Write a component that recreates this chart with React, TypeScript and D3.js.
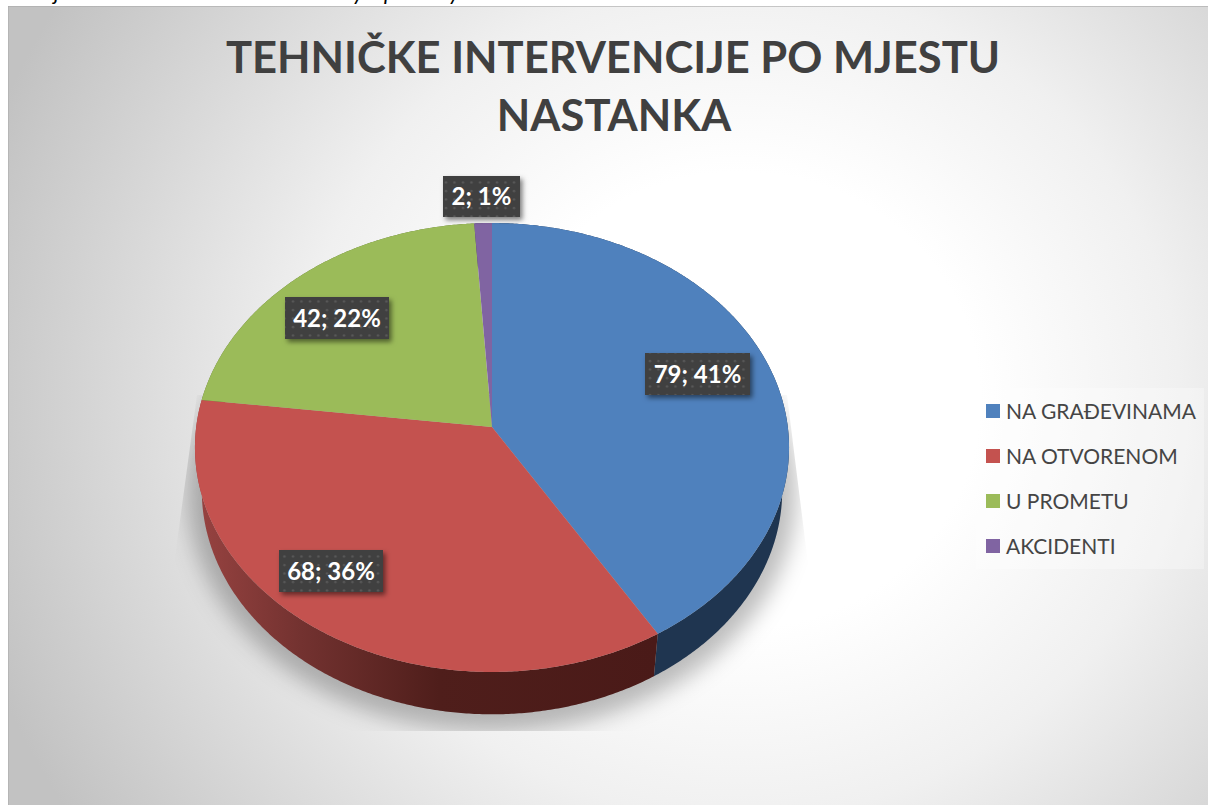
import React from "react";
import * as d3 from "d3";

// ---------- data ----------
const categories = ["NA GRAĐEVINAMA", "NA OTVORENOM", "U PROMETU", "AKCIDENTI"];
const values = [79, 68, 42, 2];
const percents = [41, 36, 22, 1];
const titleLines = ["TEHNIČKE INTERVENCIJE PO MJESTU", "NASTANKA"];

// ---------- styles / layout ----------
const topColors = ["#4f81bd", "#c4524f", "#9bbb59", "#8064a2"];
const sideFills = ["#1f3550", "url(#redSide)", "#5d7035", "#4c3c61"];
const labelBoxes = [
  { x: 645, y: 353, w: 105, h: 42 },
  { x: 279, y: 550, w: 104, h: 42 },
  { x: 285, y: 297, w: 104, h: 42 },
  { x: 443, y: 176, w: 77, h: 41 },
];
const FONT = "Lato, Carlito, Calibri, sans-serif";
const K = 0.0913;
const topFace = { cx: 492, cy: 427, rx: 295.8, ry: 222.6 };
const bottomFace = { cx: 492, cy: 470, rx: 289, ry: 222 };
const shadowFace = { cx: 492, cy: 470, rx: 303, ry: 238 };

type Face = typeof topFace;
const project = (f: Face, a: number): [number, number] => {
  const u = Math.sin(a);
  const v = -Math.cos(a);
  const w = 1 - K * v;
  return [f.cx + (f.rx * u) / w, f.cy + (f.ry * v) / w];
};
const sweep = (f: Face, a0: number, a1: number) => {
  const n = Math.max(2, Math.ceil(Math.abs(a1 - a0) * 120));
  return d3.range(n + 1).map((i) => project(f, a0 + ((a1 - a0) * i) / n));
};

export default function App() {
  const arcs = d3.pie<number>().sort(null).value((d) => d)(values);
  const line = d3.line();

  const tops = arcs.map((s) =>
    line([[topFace.cx, topFace.cy], ...sweep(topFace, s.startAngle, s.endAngle)])! + "Z"
  );
  const sides = arcs.map((s) =>
    line([
      ...sweep(topFace, s.startAngle, s.endAngle),
      ...sweep(bottomFace, s.endAngle, s.startAngle),
    ])! + "Z"
  );
  const shadow = line(sweep(shadowFace, 0, Math.PI * 2))! + "Z";

  const legendY = d3.scalePoint<string>().domain(categories).range([411, 546]);

  return (
    <svg
      width={1210}
      height={805}
      viewBox="0 0 1210 805"
      style={{ position: "fixed", left: 0, top: 0, display: "block", background: "#fff" }}
    >
      <defs>
        <radialGradient id="bg" gradientUnits="userSpaceOnUse" cx={740} cy={400} r={800} gradientTransform="translate(740 400) scale(1 0.95) translate(-740 -400)">
          <stop offset="0.3" stopColor="#ffffff" />
          <stop offset="0.55" stopColor="#f0f0f0" />
          <stop offset="1" stopColor="#c2c2c2" />
        </radialGradient>
        <linearGradient id="redSide" gradientUnits="userSpaceOnUse" x1={195} y1={0} x2={655} y2={0}>
          <stop offset="0" stopColor="#984341" />
          <stop offset="0.23" stopColor="#733230" />
          <stop offset="0.53" stopColor="#4f1e1b" />
          <stop offset="1" stopColor="#4a1a18" />
        </linearGradient>
        <pattern id="dots" patternUnits="userSpaceOnUse" width={8.5} height={8.5}>
          <rect width={8.5} height={8.5} fill="#404040" />
          <circle cx={4} cy={4} r={1.2} fill="#5a5a5a" />
        </pattern>
        <filter id="blur" x="-10%" y="-10%" width="120%" height="120%">
          <feGaussianBlur stdDeviation={11} />
        </filter>
        <filter id="boxShadow" x="-20%" y="-30%" width="150%" height="170%">
          <feDropShadow dx={2.5} dy={3} stdDeviation={2.5} floodColor="#000" floodOpacity={0.5} />
        </filter>
        <clipPath id="shadowClip">
          <polygon points="197,395 173,572 173,731 812,731 810,580 787,395" />
        </clipPath>
        <clipPath id="chartClip">
          <rect x={8} y={6} width={1200} height={799} />
        </clipPath>
      </defs>

      {/* clipped line of the page text above the chart */}
      <g fontFamily={FONT} fontSize={22} fontStyle="italic" fill="#000">
        <text x={54} y={0}>j</text>
        <text x={353} y={0}>y</text>
        <text x={384} y={0}>p</text>
        <text x={449} y={0}>y</text>
      </g>

      <rect x={8} y={6} width={1200} height={799} fill="url(#bg)" />
      <line x1={8} x2={1208} y1={6.5} y2={6.5} stroke="#a8a8a8" strokeOpacity={0.6} />
      <line x1={8.5} x2={8.5} y1={6} y2={805} stroke="#a8a8a8" strokeOpacity={0.5} />

      <g clipPath="url(#shadowClip)">
        <path d={shadow} fill="#000" fillOpacity={0.26} filter="url(#blur)" />
      </g>

      <g>
        {sides.map((d, i) => (
          <path key={categories[i]} d={d} fill={sideFills[i]} />
        ))}
      </g>
      <g>
        {tops.map((d, i) => (
          <path key={categories[i]} d={d} fill={topColors[i]} />
        ))}
      </g>

      <g textAnchor="middle" fontFamily={FONT} fontWeight={700} fontSize={43.5} fill="#404040">
        <text x={613} y={73}>{titleLines[0]}</text>
        <text x={614} y={131}>{titleLines[1]}</text>
      </g>

      {categories.map((c, i) => {
        const b = labelBoxes[i];
        return (
          <g key={c}>
            <rect x={b.x} y={b.y} width={b.w} height={b.h} fill="url(#dots)" filter="url(#boxShadow)" />
            <text
              x={b.x + b.w / 2}
              y={b.y + b.h / 2 + 8.5}
              textAnchor="middle"
              fontFamily={FONT}
              fontWeight={700}
              fontSize={24}
              fill="#fff"
            >
              {`${values[i]}; ${percents[i]}%`}
            </text>
          </g>
        );
      })}

      <rect x={976} y={388} width={228} height={181} fill="#fff" fillOpacity={0.3} />
      {categories.map((c, i) => (
        <g key={c}>
          <rect x={986} y={legendY(c)! - 7} width={14} height={14} fill={topColors[i]} />
          <text x={1006} y={legendY(c)! + 7.5} fontFamily={FONT} fontSize={21} fill="#454545">
            {c}
          </text>
        </g>
      ))}
    </svg>
  );
}
